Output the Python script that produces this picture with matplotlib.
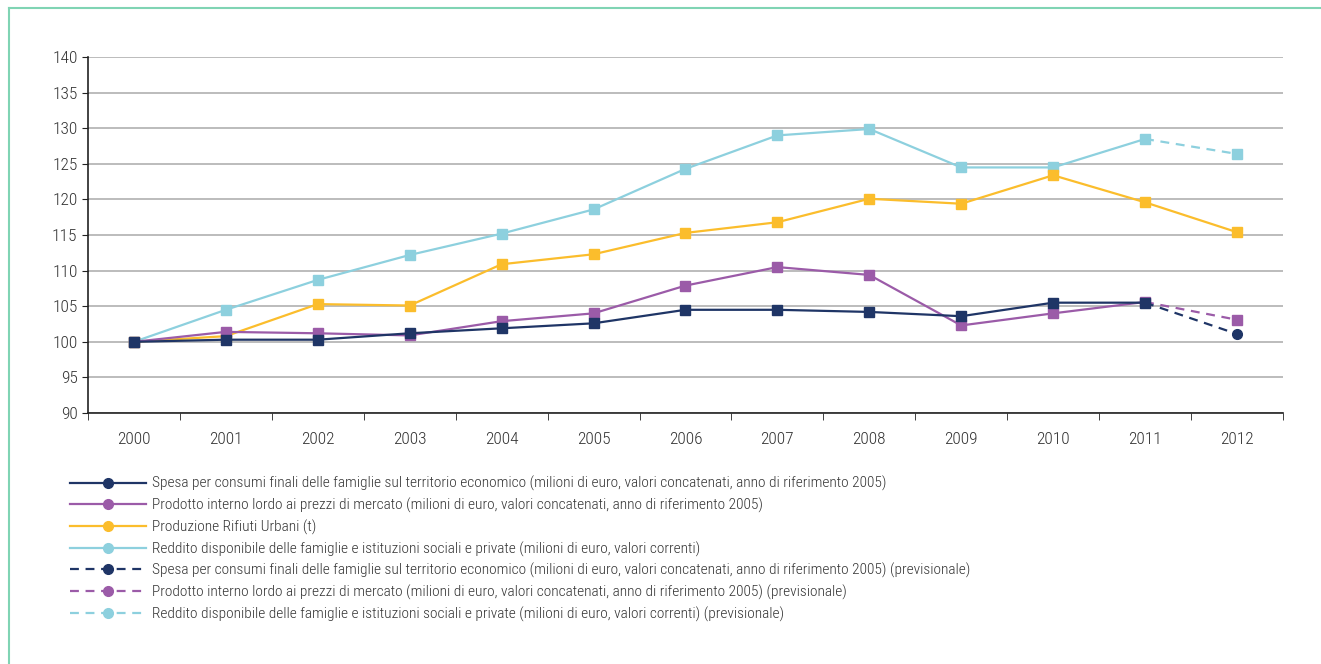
import numpy as np
import matplotlib
matplotlib.use('Agg')
import matplotlib.pyplot as plt
from matplotlib.lines import Line2D

years = ['2000', '2001', '2002', '2003', '2004', '2005', '2006',
         '2007', '2008', '2009', '2010', '2011', '2012']
spesa = [100.0, 100.3, 100.3, 101.2, 101.9, 102.6, 104.5, 104.5, 104.2, 103.6, 105.5, 105.5]
pil = [100.0, 101.4, 101.2, 100.9, 102.9, 104.0, 107.9, 110.5, 109.4, 102.3, 104.0, 105.6]
rifiuti = [100.0, 100.8, 105.3, 105.1, 110.9, 112.3, 115.3, 116.8, 120.1, 119.4, 123.4, 119.6, 115.4]
reddito = [100.0, 104.5, 108.7, 112.2, 115.2, 118.6, 124.3, 129.0, 129.9, 124.5, 124.5, 128.5]
# forecast segments 2011 -> 2012
spesa_prev = [105.5, 101.1]
pil_prev = [105.6, 103.1]
reddito_prev = [128.5, 126.4]

labels = [
    'Spesa per consumi finali delle famiglie sul territorio economico (milioni di euro, valori concatenati, anno di riferimento 2005)',
    'Prodotto interno lordo ai prezzi di mercato (milioni di euro, valori concatenati, anno di riferimento 2005)',
    'Produzione Rifiuti Urbani (t)',
    'Reddito disponibile delle famiglie e istituzioni sociali e private (milioni di euro, valori correnti)',
    'Spesa per consumi finali delle famiglie sul territorio economico (milioni di euro, valori concatenati, anno di riferimento 2005) (previsionale)',
    'Prodotto interno lordo ai prezzi di mercato (milioni di euro, valori concatenati, anno di riferimento 2005) (previsionale)',
    'Reddito disponibile delle famiglie e istituzioni sociali e private (milioni di euro, valori correnti) (previsionale)',
]

c_navy = '#1f3566'
c_purple = '#9b5ba8'
c_yellow = '#fbbd2c'
c_blue = '#8dd0de'
c_frame = '#80d4b4'

plt.rcParams['font.family'] = ['Roboto Condensed', 'Fira Sans Condensed', 'DejaVu Sans']
plt.rcParams['font.weight'] = 'light'

fig = plt.figure(figsize=(13.21, 6.64), dpi=100)
ax = fig.add_axes([0.0666, 0.378, 0.9046, 0.536])

x = np.arange(len(years))
lw = 1.6
ms = 7
ax.plot(x[:12], spesa, color=c_navy, lw=lw, marker='s', ms=ms, zorder=5)
ax.plot(x[:12], pil, color=c_purple, lw=lw, marker='s', ms=ms, zorder=4)
ax.plot(x, rifiuti, color=c_yellow, lw=lw, marker='s', ms=ms, zorder=3)
ax.plot(x[:12], reddito, color=c_blue, lw=lw, marker='s', ms=ms, zorder=2)
ax.plot(x[11:], spesa_prev, color=c_navy, lw=lw, ls=(0, (4, 3)), marker='o', ms=ms, markevery=[1], zorder=5)
ax.plot(x[11:], pil_prev, color=c_purple, lw=lw, ls=(0, (4, 3)), marker='s', ms=ms, markevery=[1], zorder=4)
ax.plot(x[11:], reddito_prev, color=c_blue, lw=lw, ls=(0, (4, 3)), marker='s', ms=ms, markevery=[1], zorder=2)

ax.set_xlim(-0.5, len(years) - 0.5)
ax.set_ylim(90, 140)
ax.set_yticks(np.arange(90, 141, 5))
ax.set_xticks(x)
ax.set_xticklabels(years)
ax.set_xticks(np.arange(-0.5, len(years), 1), minor=True)
ax.tick_params(axis='x', which='major', length=0, pad=14, labelsize=12.5, colors='#333333')
ax.tick_params(axis='x', which='minor', length=5, color='#222222')
ax.tick_params(axis='y', length=4, labelsize=12.5, colors='#222222', labelcolor='#333333')
ax.grid(axis='y', color='#b0b0b0', lw=1.2)
ax.set_axisbelow(True)
for s in ['top', 'right']:
    ax.spines[s].set_visible(False)
ax.spines['left'].set_color('#222222')
ax.spines['bottom'].set_color('#222222')
ax.spines['left'].set_linewidth(1.2)
ax.spines['bottom'].set_linewidth(1.2)

colors = [c_navy, c_purple, c_yellow, c_blue, c_navy, c_purple, c_blue]
styles = ['-', '-', '-', '-', (0, (4, 3)), (0, (4, 3)), (0, (4, 3))]
handles = [Line2D([], [], color=c, ls=s, lw=lw, marker='o', ms=7) for c, s in zip(colors, styles)]
fig.legend(handles, labels, loc='upper left', bbox_to_anchor=(0.053, 0.283),
           frameon=False, fontsize=11.1, handlelength=4.9, handletextpad=0.4,
           labelspacing=0.42, borderaxespad=0, borderpad=0, labelcolor='#333333')

# green frame lines at left and top
fig.add_artist(Line2D([9 / 1321, 1], [1 - 8 / 664, 1 - 8 / 664], color=c_frame, lw=1.5))
fig.add_artist(Line2D([9 / 1321, 9 / 1321], [0, 1 - 8 / 664], color=c_frame, lw=1.5))

fig.savefig('out.png', dpi=100)
